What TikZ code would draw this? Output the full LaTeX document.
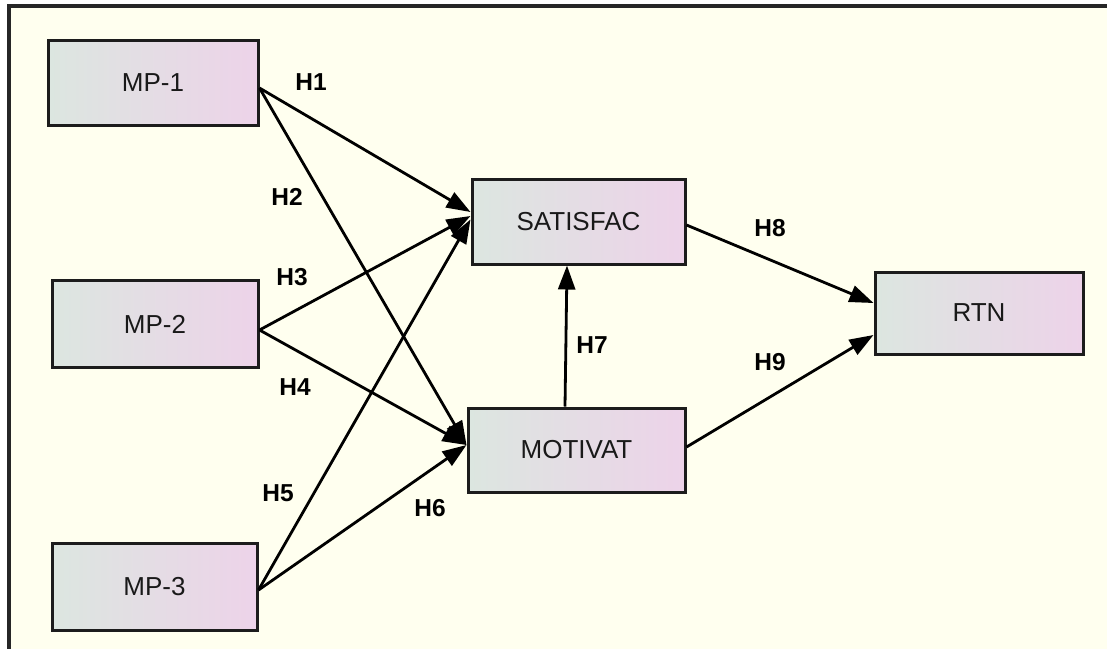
\documentclass[tikz,border=0pt]{standalone}
\usepackage{fontspec}
\setmainfont{Liberation Sans}
\usetikzlibrary{arrows.meta}
\definecolor{bg}{HTML}{FFFFEF}
\definecolor{gl}{HTML}{DCE6E0}
\definecolor{gr}{HTML}{EDD3E9}
\definecolor{edge}{HTML}{1C1C1C}
\tikzset{
  var/.style={rectangle, draw=edge, line width=3pt, left color=gl, right color=gr,
    inner sep=0pt, font=\fontsize{26}{29}\selectfont, text=black!90},
  path/.style={line width=2.8pt, draw=black, -{Triangle[length=24pt,width=17pt]}},
  hyp/.style={font=\bfseries\fontsize{24.5}{27}\selectfont, text=black, inner sep=0pt}
}
\begin{document}
\begin{tikzpicture}[x=1pt,y=-1pt]
\useasboundingbox (0,0) rectangle (1107,649);
\fill[white] (0,0) rectangle (1107,649);
\fill[bg] (9,6) rectangle (1107,649);
\draw[line width=3.5pt, black!85] (1107,6) -- (9,6) -- (9,649);

\node[var, minimum width=210pt, minimum height=85pt] (mp1) at (153,82.5) {MP-1};
\node[var, minimum width=206pt, minimum height=87pt] (mp2) at (155,324) {MP-2};
\node[var, minimum width=205pt, minimum height=87pt] (mp3) at (154.5,586.5) {MP-3};
\node[var, minimum width=213pt, minimum height=85pt] (sat) at (578.5,221.5) {SATISFAC};
\node[var, minimum width=217pt, minimum height=84pt] (mot) at (576.5,450) {MOTIVAT};
\node[var, minimum width=208pt, minimum height=82pt] (rtn) at (979,313) {RTN};

\draw[path] ([yshift=-5.5pt]mp1.east) -- ([yshift=9.5pt]sat.west);
\draw[path] ([yshift=-5.5pt]mp1.east) -- ([yshift=5pt]mot.west);
\draw[path] ([yshift=-6pt]mp2.east) -- ([yshift=5.5pt]sat.west);
\draw[path] ([yshift=-6pt]mp2.east) -- ([yshift=5pt]mot.west);
\draw[path] ([yshift=-3.5pt]mp3.east) -- ([yshift=2pt]sat.west);
\draw[path] ([yshift=-3.5pt]mp3.east) -- ([yshift=5pt]mot.west);
\draw[path] ([xshift=-11.5pt]mot.north) -- ([xshift=-11.5pt]sat.south);
\draw[path] ([yshift=-3.5pt]sat.east) -- ([yshift=10pt]rtn.west);
\draw[path] ([yshift=3pt]mot.east) -- ([yshift=-22pt]rtn.west);

\node[hyp] (h1) at (311,82) {H1};
\node[hyp] (h2) at (287,197) {H2};
\node[hyp] (h3) at (292,277) {H3};
\node[hyp] (h4) at (295,387) {H4};
\node[hyp] (h5) at (278,493) {H5};
\node[hyp] (h6) at (430,508) {H6};
\node[hyp] (h7) at (592,345) {H7};
\node[hyp] (h8) at (770,228) {H8};
\node[hyp] (h9) at (770,362) {H9};
\end{tikzpicture}
\end{document}
